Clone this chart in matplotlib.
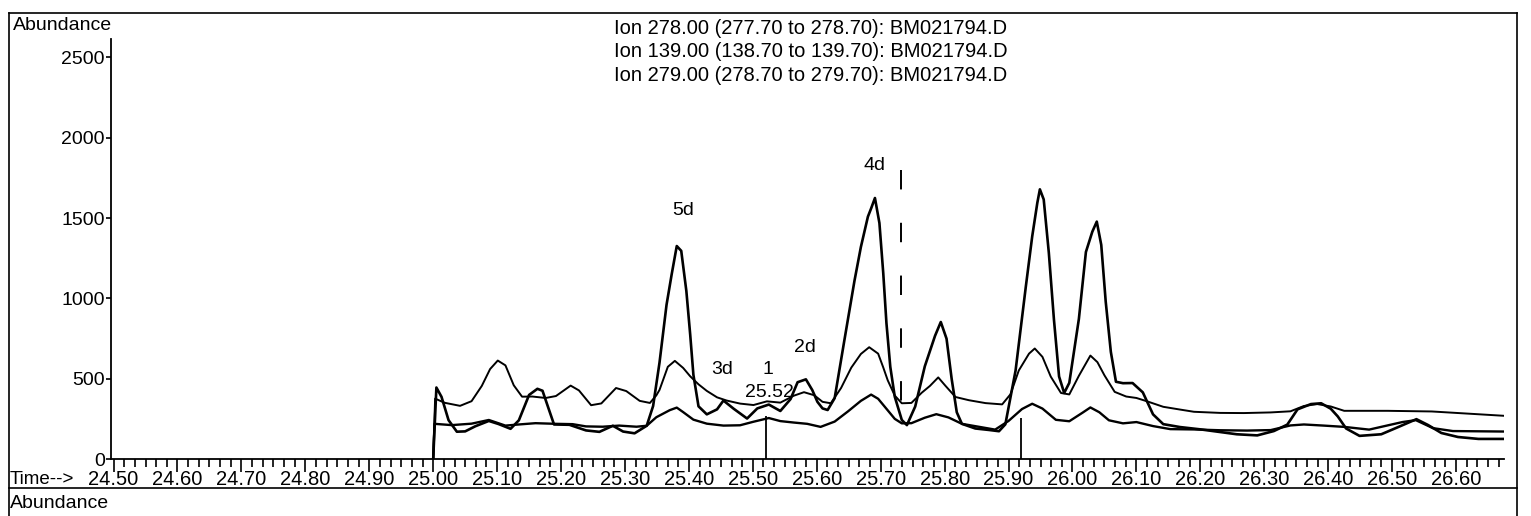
import numpy as np
import matplotlib
matplotlib.use("Agg")
import matplotlib.pyplot as plt
from matplotlib.lines import Line2D
from matplotlib.ticker import MultipleLocator

plt.rcParams['font.family'] = ['Liberation Sans', 'DejaVu Sans']
plt.rcParams['lines.scale_dashes'] = False

W, H = 1531, 516

# Ion 278 (grosse Peaks)
t_278 = [25.000, 25.005, 25.013, 25.024, 25.037, 25.050, 25.066, 25.087, 25.102, 25.121,
         25.134, 25.150, 25.163, 25.171, 25.181, 25.189, 25.213, 25.239, 25.260, 25.281,
         25.297, 25.315, 25.334, 25.344, 25.354, 25.365, 25.373, 25.381, 25.388, 25.396,
         25.402, 25.407, 25.415, 25.428, 25.444, 25.454, 25.470, 25.491, 25.507, 25.525,
         25.543, 25.559, 25.570, 25.583, 25.593, 25.601, 25.609, 25.617, 25.628, 25.643,
         25.659, 25.669, 25.680, 25.685, 25.691, 25.698, 25.704, 25.709, 25.715, 25.722,
         25.733, 25.741, 25.754, 25.769, 25.785, 25.794, 25.803, 25.811, 25.819, 25.827,
         25.848, 25.869, 25.885, 25.895, 25.911, 25.927, 25.937, 25.945, 25.949, 25.955,
         25.963, 25.971, 25.979, 25.987, 25.995, 26.010, 26.021, 26.031, 26.038, 26.045,
         26.052, 26.060, 26.068, 26.079, 26.094, 26.110, 26.126, 26.142, 26.168, 26.199,
         26.257, 26.289, 26.315, 26.336, 26.352, 26.373, 26.389, 26.404, 26.415, 26.428,
         26.449, 26.483, 26.509, 26.538, 26.556, 26.577, 26.603, 26.635, 26.675]
a_278 = [0, 445, 387, 242, 170, 172, 204, 237, 218, 188,
         241, 399, 437, 425, 308, 215, 213, 178, 169, 207,
         171, 160, 207, 330, 600, 960, 1149, 1326, 1296, 1046,
         775, 525, 328, 278, 309, 364, 313, 252, 315, 339,
         299, 373, 478, 496, 429, 356, 315, 305, 379, 735,
         1110, 1320, 1509, 1560, 1625, 1469, 1157, 845, 574, 388,
         243, 211, 327, 577, 767, 853, 749, 499, 291, 219,
         190, 181, 173, 216, 551, 1073, 1386, 1595, 1679, 1616,
         1284, 868, 514, 411, 474, 872, 1289, 1415, 1478, 1333,
         979, 667, 481, 472, 473, 415, 278, 217, 199, 185,
         154, 147, 174, 214, 309, 342, 347, 313, 265, 190,
         144, 154, 198, 248, 212, 162, 137, 125, 125]

# Ion 139 (obere Spur)
t_139 = [25.000, 25.003, 25.018, 25.042, 25.060, 25.076, 25.089, 25.101, 25.113, 25.126,
         25.139, 25.155, 25.176, 25.192, 25.215, 25.228, 25.247, 25.263, 25.286, 25.302,
         25.323, 25.339, 25.349, 25.354, 25.367, 25.378, 25.391, 25.402, 25.415, 25.428,
         25.444, 25.459, 25.480, 25.501, 25.522, 25.543, 25.564, 25.580, 25.596, 25.609,
         25.622, 25.638, 25.654, 25.669, 25.682, 25.696, 25.704, 25.711, 25.722, 25.733,
         25.748, 25.764, 25.777, 25.790, 25.801, 25.817, 25.838, 25.864, 25.890, 25.903,
         25.916, 25.932, 25.941, 25.953, 25.966, 25.982, 25.995, 26.010, 26.028, 26.039,
         26.050, 26.066, 26.084, 26.100, 26.116, 26.142, 26.168, 26.190, 26.231, 26.268,
         26.310, 26.341, 26.362, 26.383, 26.404, 26.425, 26.493, 26.562, 26.625, 26.675]
a_139 = [0, 376, 350, 331, 360, 455, 560, 613, 583, 459,
         388, 389, 380, 392, 457, 427, 335, 346, 442, 423,
         362, 349, 396, 430, 574, 611, 567, 515, 465, 424,
         384, 364, 345, 336, 359, 351, 394, 416, 397, 356,
         347, 442, 569, 654, 696, 656, 570, 490, 395, 347,
         349, 412, 455, 508, 457, 386, 366, 348, 340, 403,
         551, 656, 688, 636, 513, 411, 402, 518, 644, 603,
         521, 418, 389, 380, 360, 325, 308, 294, 287, 286,
         290, 297, 330, 342, 327, 300, 300, 296, 281, 269]

# Ion 279 (untere Spur)
t_279 = [25.000, 25.002, 25.029, 25.060, 25.087, 25.113, 25.134, 25.160, 25.192, 25.218,
         25.239, 25.265, 25.291, 25.318, 25.334, 25.349, 25.370, 25.381, 25.391, 25.407,
         25.428, 25.454, 25.480, 25.501, 25.525, 25.543, 25.564, 25.585, 25.606, 25.628,
         25.649, 25.669, 25.685, 25.696, 25.711, 25.722, 25.733, 25.748, 25.769, 25.787,
         25.806, 25.827, 25.853, 25.879, 25.900, 25.921, 25.937, 25.953, 25.974, 25.995,
         26.016, 26.028, 26.042, 26.057, 26.079, 26.100, 26.126, 26.153, 26.190, 26.231,
         26.273, 26.310, 26.341, 26.362, 26.393, 26.425, 26.464, 26.516, 26.537, 26.564,
         26.595, 26.675]
a_279 = [0, 219, 211, 220, 243, 208, 215, 223, 219, 217,
         203, 201, 208, 201, 207, 260, 304, 320, 292, 245,
         220, 208, 210, 232, 255, 236, 227, 219, 200, 233,
         297, 362, 401, 375, 303, 250, 222, 223, 257, 279,
         259, 219, 201, 183, 237, 311, 344, 314, 244, 235,
         289, 321, 291, 241, 222, 230, 205, 186, 184, 179,
         177, 180, 209, 215, 208, 200, 183, 230, 242, 192,
         174, 171]

ion_labels = ["Ion 278.00 (277.70 to 278.70): BM021794.D",
              "Ion 139.00 (138.70 to 139.70): BM021794.D",
              "Ion 279.00 (278.70 to 279.70): BM021794.D"]

peak_names = ["5d", "3d", "1", "25.52", "2d", "4d"]
peak_t = [25.391, 25.452, 25.523, 25.526, 25.581, 25.691]
peak_y = [1545, 560, 555, 413, 697, 1828]

marker_t = [25.52, 25.92]
marker_top = [269, 255]
dash_t = [25.732, 25.732]
dash_y = [1800, 350]

x_ticks = [24.5 + 0.1 * i for i in range(22)]
y_ticks = [0, 500, 1000, 1500, 2000, 2500]

# === Plot ===
fig = plt.figure(figsize=(W / 100, H / 100), dpi=100)
ax = fig.add_axes([111 / W, 1 - 459 / H, (1504 - 111) / W, (459 - 39.5) / H])

ax.plot(t_278, a_278, color="black", lw=1.9)
ax.plot(t_139, a_139, color="black", lw=1.4)
ax.plot(t_279, a_279, color="black", lw=1.7)

ax.vlines(marker_t, 0, marker_top, color="black", lw=1.3)
ax.plot(dash_t, dash_y, color="black", lw=1.4, linestyle=(0, (14, 24)))

for name, t, y in zip(peak_names, peak_t, peak_y):
    ax.text(t, y, name, ha="center", va="center", fontsize=14)

ax.set_xlim(24.496, 26.675)
ax.set_ylim(0, 2612)
ax.set_xticks(x_ticks)
ax.set_xticklabels([f"{v:.2f}" for v in x_ticks])
ax.set_yticks(y_ticks)
ax.set_yticklabels([str(v) for v in y_ticks])
ax.xaxis.set_minor_locator(MultipleLocator(1 / 60))

ax.tick_params(axis="x", which="major", length=9, width=1.2, pad=-1, labelsize=14.5)
ax.tick_params(axis="x", which="minor", length=5.5, width=1.2)
ax.tick_params(axis="y", which="major", length=3.5, width=1.2, pad=1, labelsize=14)
for s in ["top", "right"]:
    ax.spines[s].set_visible(False)
for s in ["left", "bottom"]:
    ax.spines[s].set_linewidth(1.3)

# Texte ausserhalb der Achsen
fig.text(12.6 / W, 1 - 25.8 / H, "Abundance", fontsize=14, va="center", ha="left")
for i, line in enumerate(ion_labels):
    fig.text(614 / W, 1 - (28.5 + 23.4 * i) / H, line, fontsize=14.5, va="center", ha="left")
fig.text(9.5 / W, 1 - 479.3 / H, "Time-->", fontsize=13.5, va="center", ha="left")
fig.text(9.5 / W, 1 - 504 / H, "Abundance", fontsize=14, va="center", ha="left")

# Rahmen
def fig_line(xs, ys):
    fig.add_artist(Line2D([x / W for x in xs], [1 - y / H for y in ys],
                          transform=fig.transFigure, color="black", lw=1.2))

fig_line([8.5, 8.5], [13, H])
fig_line([8.5, 1517], [13, 13])
fig_line([1517, 1517], [13, H])
fig_line([8.5, 1517], [488, 488])

fig.savefig("out.png", dpi=100)
